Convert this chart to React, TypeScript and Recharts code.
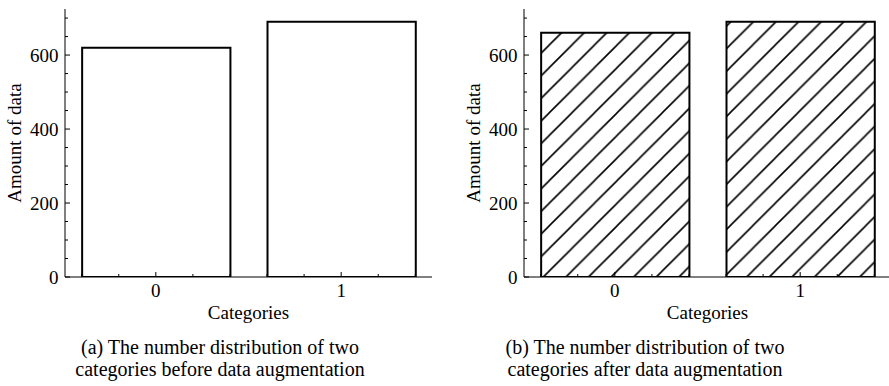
import { BarChart, Bar, XAxis, YAxis } from "recharts";

const categories = [0, 1];
const countsBefore = [620, 690];
const countsAfter = [660, 690];

const xTicks = [-0.4, -0.2, 0, 0.2, 0.4, 0.6, 0.8, 1, 1.2, 1.4];
const yTicks = [0, 50, 100, 150, 200, 250, 300, 350, 400, 450, 500, 550, 600, 650, 700];
const yMajor = [0, 200, 400, 600];
const xDomain = [-0.49, 1.49];
const yDomain = [0, 724.5];

const FONT = "'Liberation Serif', 'Times New Roman', serif";
const CHART_W = 445;
const CHART_H = 330;
const PLOT_W = 367;
const HATCH = 22.6;

const isMajorX = (v: number) => Math.abs(v - Math.round(v)) < 1e-6;
const isMajorY = (v: number) => yMajor.includes(v);

// inward ticks, matplotlib/scienceplots style
const bottomTick = (p: any) => {
  const v = p.payload.value;
  const major = isMajorX(v);
  return (
    <g>
      <line x1={p.x} y1={p.y} x2={p.x} y2={p.y - (major ? 5 : 3)} stroke="#000" strokeWidth={1} />
      {major && (
        <text x={p.x} y={p.y + 20} textAnchor="middle" fontSize={19} fontFamily={FONT} fill="#000">
          {Math.round(v)}
        </text>
      )}
    </g>
  );
};

const topTick = (p: any) => {
  const major = isMajorX(p.payload.value);
  return <line x1={p.x} y1={p.y} x2={p.x} y2={p.y + (major ? 5 : 3)} stroke="#000" strokeWidth={1} />;
};

const leftTick = (p: any) => {
  const v = p.payload.value;
  const major = isMajorY(v);
  return (
    <g>
      <line x1={p.x} y1={p.y} x2={p.x + (major ? 5 : 3)} y2={p.y} stroke="#000" strokeWidth={1} />
      {major && (
        <text x={p.x - 6.5} y={p.y + 6.5} textAnchor="end" fontSize={19} fontFamily={FONT} fill="#000">
          {v}
        </text>
      )}
    </g>
  );
};

const rightTick = (p: any) => {
  const major = isMajorY(p.payload.value);
  return <line x1={p.x} y1={p.y} x2={p.x - (major ? 5 : 3)} y2={p.y} stroke="#000" strokeWidth={1} />;
};

function CountChart({ values, fill }: { values: number[]; fill: string }) {
  const data = categories.map((c, i) => ({ cat: c, v: values[i] }));
  const barSize = (PLOT_W / (xDomain[1] - xDomain[0])) * 0.8;
  return (
    <BarChart width={CHART_W} height={CHART_H} data={data} margin={{ top: 9, right: 13, bottom: 0, left: 0 }}>
      <XAxis
        xAxisId="bottom"
        dataKey="cat"
        type="number"
        domain={xDomain}
        ticks={xTicks}
        interval={0}
        height={53}
        tickSize={0}
        tickMargin={0}
        tick={bottomTick}
        axisLine={{ stroke: "#000", strokeWidth: 1 }}
        allowDataOverflow
      />
      <XAxis
        xAxisId="top"
        orientation="top"
        dataKey="cat"
        type="number"
        domain={xDomain}
        ticks={xTicks}
        interval={0}
        height={0}
        tickSize={0}
        tickMargin={0}
        tick={topTick}
        axisLine={{ stroke: "#000", strokeWidth: 1 }}
        allowDataOverflow
      />
      <YAxis
        yAxisId="left"
        type="number"
        domain={yDomain}
        ticks={yTicks}
        interval={0}
        width={65}
        tickSize={0}
        tickMargin={0}
        tick={leftTick}
        axisLine={{ stroke: "#000", strokeWidth: 1 }}
        allowDataOverflow
      />
      <YAxis
        yAxisId="right"
        orientation="right"
        type="number"
        domain={yDomain}
        ticks={yTicks}
        interval={0}
        width={0}
        tickSize={0}
        tickMargin={0}
        tick={rightTick}
        axisLine={{ stroke: "#000", strokeWidth: 1 }}
        allowDataOverflow
      />
      <Bar
        xAxisId="bottom"
        yAxisId="left"
        dataKey="v"
        barSize={barSize}
        fill={fill}
        stroke="#000"
        strokeWidth={2}
        isAnimationActive={false}
      />
      <text
        x={20.5}
        y={143}
        transform="rotate(-90 20.5 143)"
        textAnchor="middle"
        fontSize={19}
        fontFamily={FONT}
        fill="#000"
      >
        Amount of data
      </text>
      <text x={248.5} y={319} textAnchor="middle" fontSize={19} fontFamily={FONT} fill="#000">
        Categories
      </text>
    </BarChart>
  );
}

const captionStyle: React.CSSProperties = {
  position: "absolute",
  top: 336,
  width: 420,
  textAlign: "center",
  fontFamily: FONT,
  fontSize: 20,
  lineHeight: "22px",
  color: "#000",
};

export default function App() {
  return (
    <div style={{ position: "absolute", left: 0, top: 0, width: 889, height: 386, overflow: "hidden", background: "#fff" }}>
      <svg width={0} height={0} style={{ position: "absolute" }}>
        <defs>
          <pattern id="hatch" patternUnits="userSpaceOnUse" width={HATCH} height={HATCH} x={-0.3} y={0}>
            <rect width={HATCH} height={HATCH} fill="#fff" />
            <path
              d={`M0,${HATCH} L${HATCH},0 M-2,2 L2,-2 M${HATCH - 2},${HATCH + 2} L${HATCH + 2},${HATCH - 2}`}
              stroke="#000"
              strokeWidth={1.6}
            />
          </pattern>
        </defs>
      </svg>
      <div style={{ position: "absolute", left: 0, top: 0 }}>
        <CountChart values={countsBefore} fill="#fff" />
      </div>
      <div style={{ position: "absolute", left: 459, top: 0 }}>
        <CountChart values={countsAfter} fill="url(#hatch)" />
      </div>
      <div style={{ ...captionStyle, left: 10 }}>
        (a) The number distribution of two
        <br />
        categories before data augmentation
      </div>
      <div style={{ ...captionStyle, left: 435 }}>
        (b) The number distribution of two
        <br />
        categories after data augmentation
      </div>
    </div>
  );
}
